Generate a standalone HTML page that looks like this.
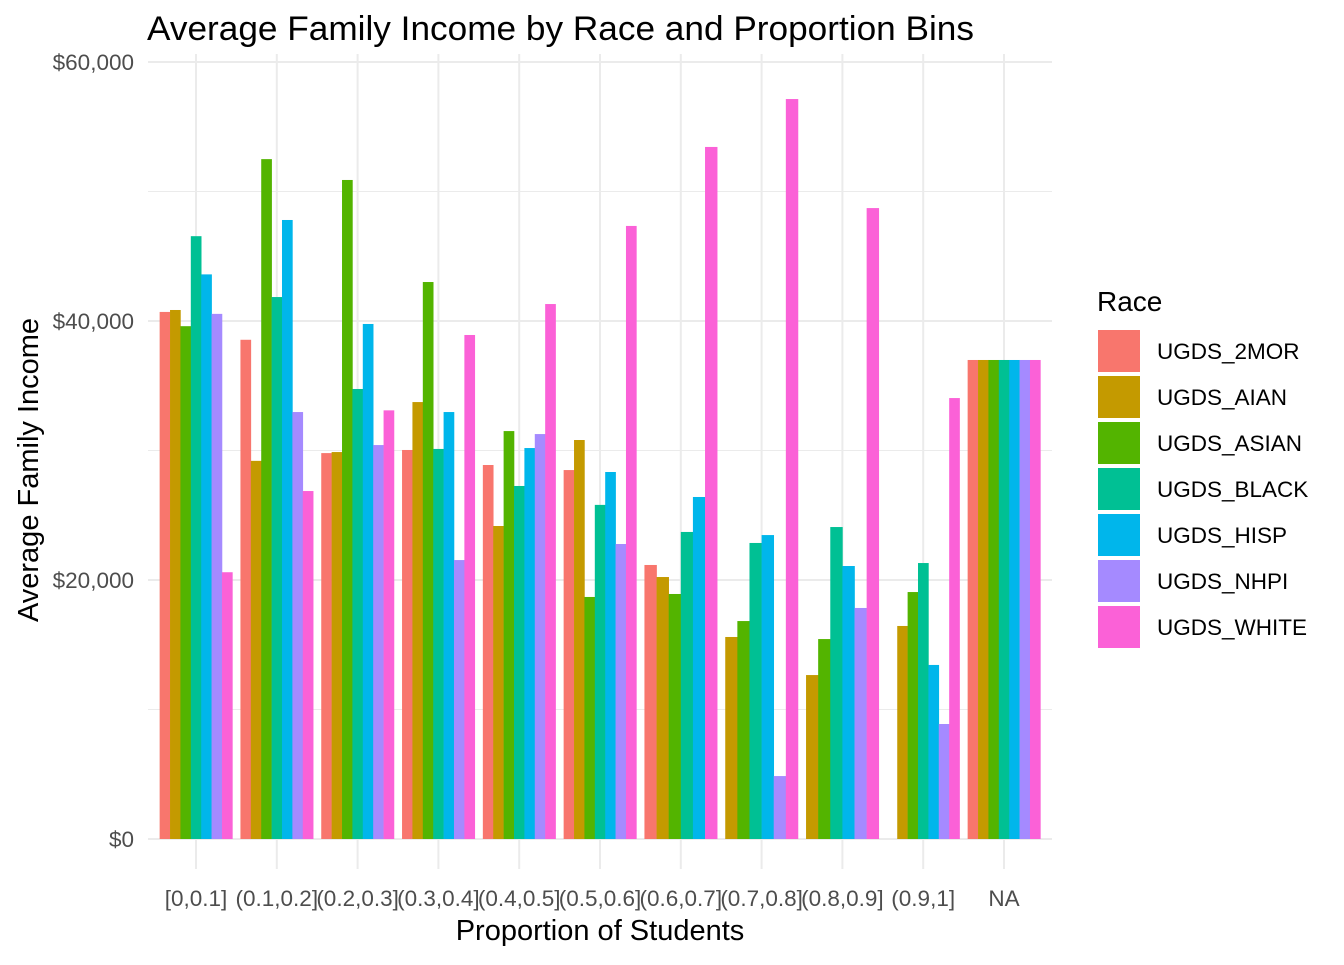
<!DOCTYPE html>
<html><head><meta charset="utf-8"><style>
body{margin:0;background:#fff;font-family:"Liberation Sans",Arial,sans-serif;}
svg text{font-family:"Liberation Sans",Arial,sans-serif;}
</style></head><body>
<svg id="c" width="1344" height="960" viewBox="0 0 1344 960">
<text x="147" y="40" font-size="34" textLength="827" lengthAdjust="spacingAndGlyphs" fill="#000">Average Family Income by Race and Proportion Bins</text>
<text x="600" y="940" font-size="29" text-anchor="middle" fill="#000">Proportion of Students</text>
<text transform="translate(38,470) rotate(-90)" font-size="29" text-anchor="middle" fill="#000">Average Family Income</text>
<g id="grid"></g><g id="bars"></g><g id="ticks"></g><g id="legend"></g>
</svg>
<script>
const categories=["[0,0.1]","(0.1,0.2]","(0.2,0.3]","(0.3,0.4]","(0.4,0.5]","(0.5,0.6]","(0.6,0.7]","(0.7,0.8]","(0.8,0.9]","(0.9,1]","NA"];
const races=["UGDS_2MOR","UGDS_AIAN","UGDS_ASIAN","UGDS_BLACK","UGDS_HISP","UGDS_NHPI","UGDS_WHITE"];
const colors=["#F8766D","#C49A00","#53B400","#00C094","#00B6EB","#A58AFF","#FB61D7"];
// null = row absent (remaining bars widen); NaN = empty slot kept
const v2MOR=[40700,38550,29800,30040,28880,28490,21160,null,null,NaN,36990];
const vAIAN=[40850,29200,29880,33740,24170,30810,20230,15600,12660,16450,36990];
const vASIAN=[39600,52500,50890,43010,31500,18690,18920,16830,15440,19070,36990];
const vBLACK=[46550,41850,34750,30120,27260,25800,23710,22860,24090,21310,36990];
const vHISP=[43600,47800,39770,32970,30190,28340,26410,23470,21080,13440,36990];
const vNHPI=[40550,32970,30420,21540,31270,22780,null,4860,17840,8880,36990];
const vWHITE=[20600,26870,33100,38920,41310,47340,53440,57140,48720,34050,36990];
const series=[v2MOR,vAIAN,vASIAN,vBLACK,vHISP,vNHPI,vWHITE];
const yTicks=[0,20000,40000,60000];
const yTickLabels=["$0","$20,000","$40,000","$60,000"];
const yMinor=[10000,30000,50000];

const NS="http://www.w3.org/2000/svg";
const X0=148,X1=1052,Y0=839,Y60=62;
const step=80.8;
const xc=i=>196+i*step;
const y=v=>Y0-(v/60000)*(Y0-Y60);
function mk(tag,attrs,parent){const e=document.createElementNS(NS,tag);for(const k in attrs)e.setAttribute(k,attrs[k]);parent.appendChild(e);return e;}
const grid=document.getElementById('grid');
yMinor.forEach(v=>{const l=mk('line',{x1:X0,x2:X1,y1:y(v),y2:y(v),stroke:'#ebebeb','stroke-width':1},grid);

});
yTicks.forEach((v,i)=>{const l=mk('line',{x1:X0,x2:X1,y1:y(v),y2:y(v),stroke:'#ebebeb','stroke-width':2},grid);


const t=mk('text',{x:134,y:y(v)+8,'font-size':22.5,'text-anchor':'end',fill:'#4d4d4d'},document.getElementById('ticks'));
t.textContent=yTickLabels[i];

});
categories.forEach((c,i)=>{const l=mk('line',{x1:xc(i),x2:xc(i),y1:Y60-8,y2:Y0+30,stroke:'#ebebeb','stroke-width':2},grid);


const t=mk('text',{x:xc(i),y:906,'font-size':22.5,'text-anchor':'middle',fill:'#4d4d4d'},document.getElementById('ticks'));
t.textContent=c;

});
const bars=document.getElementById('bars');
const gw=step*0.9;
categories.forEach((c,i)=>{
  const present=series.map(s=>s[i]).filter(v=>v!==null).length;
  const bw=gw/present;let k=0;
  series.forEach((s,j)=>{const v=s[i];if(v===null)return;
    const x=xc(i)-gw/2+k*bw;k++;
    if(isNaN(v))return;
    const r=mk('rect',{x:x,y:y(v),width:bw+0.3,height:Y0-y(v),fill:colors[j]},bars);
    
    });
});
const lg=document.getElementById('legend');
const lt=mk('text',{x:1097,y:311,'font-size':28,fill:'#000'},lg);lt.textContent='Race';


races.forEach((r,j)=>{const yy=330+j*46;
  const g=mk('g',{},lg);
  
  
  mk('rect',{x:1098,y:yy,width:42,height:42,fill:colors[j]},g);
  const t=mk('text',{x:1157,y:yy+29,'font-size':22.5,fill:'#000'},g);t.textContent=r;});
</script>
</body></html>
